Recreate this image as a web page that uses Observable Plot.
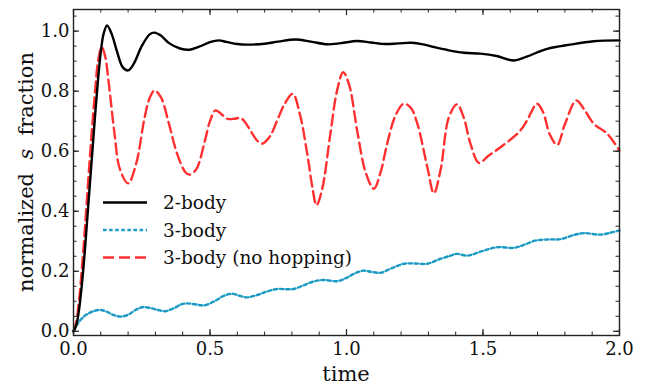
<!DOCTYPE html>
<html><head><meta charset="utf-8">
<script src="https://cdn.jsdelivr.net/npm/d3@7"></script>
<script src="https://cdn.jsdelivr.net/npm/@observablehq/plot@0.6"></script>
<style>
body{margin:0;background:#fff}
#chart{width:647px;height:385px}
#chart svg text, #chart svg tspan {font-family: "DejaVu Serif" !important;}
</style>
</head><body><div id="chart"></div>
<script>
// ---- data ----
const twoBodyT = [0,0.01,0.02,0.03,0.04,0.05,0.06,0.07,0.08,0.09,0.10,0.11,0.123,0.14,0.16,0.18,0.2,0.22,0.25,0.28,0.297,0.32,0.35,0.39,0.426,0.46,0.5,0.532,0.56,0.6,0.636,0.7,0.75,0.813,0.87,0.929,0.98,1.039,1.09,1.143,1.19,1.24,1.28,1.32,1.37,1.43,1.49,1.55,1.613,1.66,1.735,1.82,1.906,2.0];
const twoBodyV = [0,0.02,0.07,0.15,0.25,0.37,0.49,0.61,0.73,0.84,0.93,0.99,1.019,0.99,0.93,0.88,0.869,0.89,0.95,0.99,0.995,0.985,0.96,0.942,0.938,0.948,0.963,0.969,0.964,0.957,0.955,0.958,0.965,0.972,0.965,0.956,0.96,0.967,0.962,0.957,0.959,0.961,0.956,0.947,0.937,0.928,0.925,0.917,0.902,0.915,0.941,0.955,0.966,0.969];

const threeBodyT = [0,0.015,0.038,0.06,0.08,0.099,0.12,0.145,0.172,0.2,0.225,0.251,0.28,0.31,0.337,0.37,0.395,0.417,0.445,0.477,0.5,0.526,0.55,0.581,0.61,0.636,0.67,0.71,0.746,0.78,0.807,0.84,0.88,0.917,0.966,1.0,1.03,1.063,1.09,1.125,1.165,1.21,1.25,1.296,1.34,1.381,1.405,1.442,1.5,1.552,1.613,1.65,1.692,1.74,1.784,1.83,1.869,1.93,1.97,2.0];
const threeBodyV = [0,0.025,0.049,0.062,0.069,0.071,0.066,0.055,0.049,0.055,0.07,0.08,0.078,0.071,0.067,0.078,0.09,0.093,0.09,0.086,0.093,0.105,0.118,0.125,0.118,0.113,0.12,0.133,0.141,0.14,0.141,0.152,0.166,0.171,0.167,0.178,0.193,0.202,0.198,0.195,0.21,0.225,0.226,0.225,0.24,0.252,0.258,0.252,0.268,0.28,0.278,0.288,0.302,0.306,0.307,0.32,0.327,0.322,0.329,0.336];

const noHopT = [0,0.01,0.02,0.03,0.04,0.05,0.06,0.07,0.08,0.09,0.103,0.115,0.13,0.15,0.17,0.2,0.23,0.26,0.28,0.297,0.32,0.35,0.38,0.41,0.425,0.45,0.48,0.5,0.52,0.54,0.563,0.59,0.612,0.63,0.648,0.67,0.691,0.72,0.746,0.775,0.803,0.83,0.856,0.875,0.89,0.91,0.941,0.965,0.988,1.01,1.039,1.07,1.1,1.125,1.149,1.18,1.21,1.235,1.26,1.296,1.32,1.345,1.375,1.405,1.43,1.454,1.485,1.52,1.564,1.631,1.66,1.698,1.72,1.745,1.772,1.8,1.842,1.87,1.906,1.955,2.0];
const noHopV = [0,0.03,0.1,0.2,0.32,0.45,0.58,0.7,0.81,0.9,0.947,0.92,0.82,0.66,0.54,0.493,0.56,0.71,0.78,0.802,0.78,0.69,0.59,0.53,0.522,0.54,0.63,0.7,0.736,0.725,0.708,0.708,0.711,0.695,0.669,0.638,0.625,0.65,0.702,0.76,0.791,0.72,0.592,0.48,0.42,0.47,0.658,0.8,0.863,0.82,0.669,0.53,0.475,0.53,0.625,0.72,0.758,0.745,0.69,0.547,0.46,0.54,0.713,0.756,0.71,0.625,0.561,0.585,0.613,0.663,0.7,0.758,0.73,0.655,0.621,0.69,0.769,0.74,0.691,0.658,0.602];

const seriesNames = ["2-body", "3-body", "3-body (no hopping)"];
const seriesColors = ["#000000", "#1b9ac3", "#ff3030"];
const seriesDash = [null, "3.5,2.6", "11,5"];

const xTicks = [0, 0.5, 1.0, 1.5, 2.0];
const yTicks = [0, 0.2, 0.4, 0.6, 0.8, 1.0];
const xMinor = d3.range(0, 21).map(i => i / 10);
const yMinor = d3.range(0, 22).map(i => i / 20);
const xLabel = "time";

// ---- build ----
const W = 647, H = 385, mL = 73, mR = 28, mT = 9, mB = 50;
const pw = W - mL - mR, ph = H - mT - mB;
const mk = (T, V, s) => T.map((t, i) => ({t, v: V[i], s}));
const series = [mk(twoBodyT, twoBodyV, 0), mk(threeBodyT, threeBodyV, 1), mk(noHopT, noHopV, 2)];
const font = "DejaVu Serif";
const maj = 6, mnr = 3.5;

const lineMarks = [2, 1, 0].map(s => Plot.line(series[s], {
  x: "t", y: "v", stroke: seriesColors[s], strokeWidth: 2.4,
  strokeDasharray: seriesDash[s], curve: "catmull-rom"
}));

const chart = Plot.plot({
  width: W, height: H,
  marginLeft: mL, marginRight: mR, marginTop: mT, marginBottom: mB,
  style: {fontFamily: font, background: "#fff"},
  x: {domain: [0, 2]},
  y: {domain: [-0.014, 1.072]},
  marks: [
    ...lineMarks,
    Plot.tickX(xMinor, {x: d => d, insetTop: ph - mnr, stroke: "#222", strokeWidth: 1}),
    Plot.tickX(xMinor, {x: d => d, insetBottom: ph - mnr, stroke: "#222", strokeWidth: 1}),
    Plot.tickX(xTicks, {x: d => d, insetTop: ph - maj, stroke: "#222", strokeWidth: 1.2}),
    Plot.tickX(xTicks, {x: d => d, insetBottom: ph - maj, stroke: "#222", strokeWidth: 1.2}),
    Plot.tickY(yMinor, {y: d => d, insetRight: pw - mnr, stroke: "#222", strokeWidth: 1}),
    Plot.tickY(yMinor, {y: d => d, insetLeft: pw - mnr, stroke: "#222", strokeWidth: 1}),
    Plot.tickY(yTicks, {y: d => d, insetRight: pw - maj, stroke: "#222", strokeWidth: 1.2}),
    Plot.tickY(yTicks, {y: d => d, insetLeft: pw - maj, stroke: "#222", strokeWidth: 1.2}),
    Plot.frame({stroke: "#222", strokeWidth: 1.4}),
    Plot.axisX({ticks: xTicks, tickFormat: d => d.toFixed(1), tickSize: 0, tickPadding: 7, label: null, fontSize: 18, fill: "#111"}),
    Plot.axisY({ticks: yTicks, tickFormat: d => d.toFixed(1), tickSize: 0, tickPadding: 4, label: null, fontSize: 18, fill: "#111"})
  ]
});
document.getElementById("chart").appendChild(chart);

// ---- labels & legend ----
const svg = d3.select(chart);
svg.append("text").attr("x", mL + pw / 2).attr("y", 381)
  .attr("text-anchor", "middle").attr("font-size", 21).attr("fill", "#111").text(xLabel);
const yl = svg.append("text").attr("transform", `translate(33,${mT + ph / 2}) rotate(-90)`)
  .attr("text-anchor", "middle").attr("font-size", 21).attr("fill", "#111")
  .attr("xml:space", "preserve");
yl.append("tspan").text("normalized  ");
yl.append("tspan").attr("font-style", "italic").text("s");
yl.append("tspan").text("  fraction");

const lg = svg.append("g");
const rowsY = [202.5, 230, 257.5];
seriesNames.forEach((name, i) => {
  lg.append("line").attr("x1", 103).attr("x2", 147).attr("y1", rowsY[i]).attr("y2", rowsY[i])
    .attr("stroke", seriesColors[i]).attr("stroke-width", 2.4)
    .attr("stroke-dasharray", seriesDash[i]);
  lg.append("text").attr("x", 163).attr("y", rowsY[i] + 6.5).attr("text-anchor", "start")
    .attr("font-size", 18.5).attr("fill", "#111").text(name);
});
svg.selectAll("text, tspan").attr("font-family", font);
</script></body></html>
